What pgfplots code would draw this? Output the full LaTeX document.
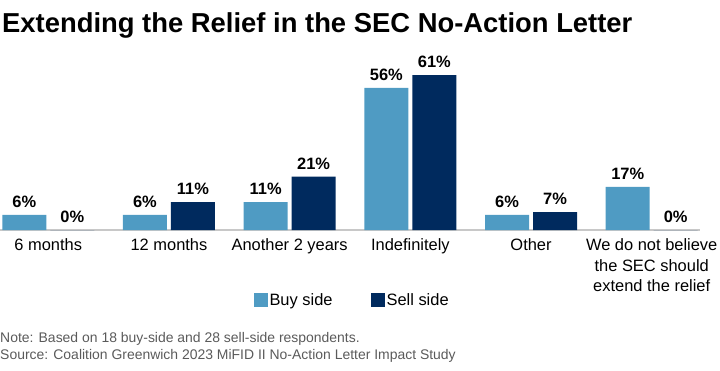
\documentclass[border=0pt]{standalone}
\usepackage{pgfplots}
\pgfplotsset{compat=1.18}
\usepackage{fontspec}
\setmainfont{Liberation Sans}
\definecolor{buy}{RGB}{79,155,195}
\definecolor{sell}{RGB}{0,42,94}
\definecolor{baseg}{RGB}{200,200,200}
\definecolor{notec}{RGB}{90,90,90}
\begin{document}
\begin{tikzpicture}
\useasboundingbox (0bp,-141bp) rectangle (720bp,230bp);
\begin{axis}[
  at={(0bp,0bp)}, anchor=south west,
  scale only axis, width=700bp, height=165bp,
  xmin=-0.4, xmax=5.4, ymin=0, ymax=65,
  axis y line=none,
  axis x line*=bottom,
  x axis line style={baseg, line width=1.3bp},
  xtick={0,...,5},
  xticklabels={6 months, 12 months, Another 2 years, Indefinitely, Other, {We do not believe\\the SEC should\\extend the relief}},
  major tick length=0pt,
  xticklabel style={font=\fontsize{16.5}{21}\selectfont, align=center, anchor=north, inner sep=0pt, yshift=-8bp},
  ybar, bar width=44bp,
  nodes near coords={\pgfmathprintnumber[assume math mode=true]{\pgfplotspointmeta}\%},
  every node near coord/.append style={font=\fontsize{16.5}{18}\selectfont\bfseries, inner sep=0pt, yshift=7bp, text=black},
  legend style={at={(axis description cs:0.503,-0.424)}, anchor=center, draw=none, fill=none, font=\fontsize{16.5}{18}\selectfont, legend columns=2, /tikz/every even column/.append style={column sep=36bp}},
  legend image code/.code={\fill[#1] (0bp,-7bp) rectangle (14bp,7bp);},
]
\addplot[fill=buy, draw=none, bar shift=-24bp] coordinates {(0,6) (1,6) (2,11) (3,56) (4,6) (5,17)};
\addplot[fill=sell, draw=none, bar shift=24bp] coordinates {(0,0) (1,11) (2,21) (3,61) (4,7) (5,0)};
\legend{Buy side, Sell side}
\end{axis}
\node[anchor=base west, inner sep=0pt, font=\fontsize{27.5}{30}\selectfont\bfseries] at (2bp,197bp) {Extending the Relief in the SEC No-Action Letter};
\node[anchor=base west, inner sep=0pt, font=\fontsize{14}{16}\selectfont, text=notec] at (0bp,-112bp) {Note: Based on 18 buy-side and 28 sell-side respondents.};
\node[anchor=base west, inner sep=0pt, font=\fontsize{14}{16}\selectfont, text=notec] at (0bp,-129bp) {Source: Coalition Greenwich 2023 MiFID II No-Action Letter Impact Study};
\end{tikzpicture}
\end{document}
